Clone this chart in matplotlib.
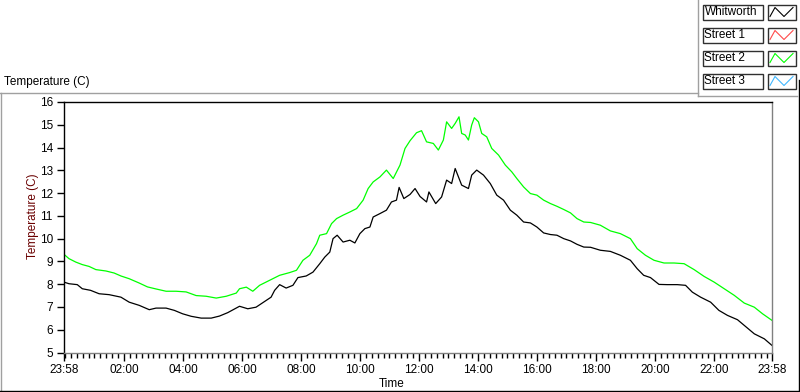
import matplotlib
matplotlib.use('Agg')
import matplotlib.pyplot as plt
import matplotlib.patches as mpatches

plt.rcParams['font.family'] = ['Liberation Sans', 'DejaVu Sans']

# ── Data (hours elapsed since 23:58, temperature in C) ────────────────────────
street2_t = [0.00, 0.17, 0.40, 0.62, 0.85, 1.08, 1.42, 1.70, 1.93, 2.21, 2.55, 2.83,
             3.12, 3.46, 3.80, 4.14, 4.48, 4.82, 5.16, 5.50, 5.84, 5.95, 6.18, 6.40,
             6.63, 6.97, 7.31, 7.65, 7.88, 8.10, 8.33, 8.56, 8.67, 8.90, 9.07, 9.24,
             9.46, 9.69, 9.92, 10.14, 10.31, 10.48, 10.71, 10.93, 11.16, 11.39, 11.56,
             11.73, 11.95, 12.12, 12.29, 12.52, 12.69, 12.86, 12.97, 13.14, 13.26, 13.39,
             13.48, 13.60, 13.71, 13.82, 13.91, 14.05, 14.16, 14.33, 14.50, 14.73, 14.96,
             15.18, 15.35, 15.58, 15.81, 16.03, 16.26, 16.49, 16.71, 16.94, 17.17, 17.39,
             17.62, 17.85, 18.18, 18.52, 18.86, 19.20, 19.43, 19.71, 20.00, 20.34, 20.68,
             21.02, 21.36, 21.70, 22.04, 22.38, 22.72, 23.06, 23.40, 23.68, 24.00]
street2_v = [9.31, 9.12, 8.97, 8.86, 8.78, 8.64, 8.58, 8.49, 8.36, 8.24, 8.05, 7.88,
             7.79, 7.69, 7.69, 7.66, 7.50, 7.47, 7.39, 7.47, 7.61, 7.80, 7.87, 7.69,
             7.95, 8.17, 8.39, 8.51, 8.61, 9.05, 9.27, 9.78, 10.15, 10.22, 10.66, 10.88,
             11.03, 11.17, 11.32, 11.69, 12.20, 12.49, 12.71, 13.01, 12.64, 13.23, 13.96,
             14.30, 14.65, 14.74, 14.25, 14.18, 13.89, 14.33, 15.13, 14.84, 15.06, 15.35,
             14.62, 14.55, 14.33, 14.99, 15.31, 15.13, 14.62, 14.47, 13.96, 13.67, 13.23,
             12.93, 12.64, 12.27, 11.98, 11.91, 11.69, 11.54, 11.42, 11.28, 11.13, 10.88,
             10.73, 10.71, 10.59, 10.34, 10.22, 10.00, 9.56, 9.27, 9.05, 8.93, 8.93,
             8.90, 8.64, 8.34, 8.09, 7.80, 7.51, 7.17, 6.99, 6.70, 6.41]

whitworth_t = [0.00, 0.17, 0.45, 0.62, 0.90, 1.19, 1.53, 1.93, 2.21, 2.55, 2.89, 3.12,
               3.46, 3.74, 4.02, 4.31, 4.65, 4.99, 5.27, 5.55, 5.95, 6.23, 6.51, 6.80,
               7.02, 7.14, 7.31, 7.53, 7.76, 7.93, 8.21, 8.44, 8.67, 8.84, 9.01, 9.12,
               9.26, 9.46, 9.69, 9.86, 10.03, 10.20, 10.37, 10.48, 10.71, 10.93, 11.10,
               11.27, 11.36, 11.52, 11.73, 11.90, 12.07, 12.29, 12.37, 12.60, 12.80, 12.97,
               13.14, 13.26, 13.48, 13.71, 13.82, 13.99, 14.22, 14.45, 14.67, 14.90, 15.13,
               15.35, 15.58, 15.81, 16.03, 16.26, 16.49, 16.71, 16.94, 17.17, 17.39, 17.62,
               17.85, 18.18, 18.52, 18.86, 19.20, 19.43, 19.65, 19.88, 20.17, 20.45, 20.79,
               21.07, 21.30, 21.58, 21.92, 22.20, 22.49, 22.83, 23.06, 23.40, 23.74, 24.00]
whitworth_v = [8.09, 8.02, 7.98, 7.80, 7.73, 7.58, 7.54, 7.43, 7.21, 7.07, 6.88, 6.95,
               6.95, 6.85, 6.70, 6.59, 6.51, 6.51, 6.60, 6.75, 7.03, 6.92, 6.99, 7.24,
               7.43, 7.73, 7.98, 7.83, 7.95, 8.29, 8.36, 8.53, 8.90, 9.19, 9.41, 10.00,
               10.15, 9.85, 9.93, 9.81, 10.22, 10.44, 10.51, 10.95, 11.10, 11.25, 11.61,
               11.69, 12.25, 11.76, 11.94, 12.20, 11.85, 11.61, 12.05, 11.54, 11.83, 12.57,
               12.42, 13.08, 12.35, 12.20, 12.79, 13.01, 12.79, 12.42, 11.91, 11.69, 11.25,
               11.03, 10.73, 10.69, 10.51, 10.25, 10.18, 10.15, 10.00, 9.90, 9.75, 9.63,
               9.62, 9.49, 9.44, 9.27, 9.05, 8.68, 8.39, 8.29, 7.99, 7.98, 7.98,
               7.95, 7.65, 7.43, 7.21, 6.85, 6.63, 6.44, 6.19, 5.82, 5.60, 5.31]

series_names = ['Whitworth', 'Street 1', 'Street 2', 'Street 3']
series_colors = ['#000000', '#ff4a4a', '#00ff00', '#40b8ff']

time_labels = ['23:58', '02:00', '04:00', '06:00', '08:00', '10:00', '12:00',
               '14:00', '16:00', '18:00', '20:00', '22:00', '23:58']
y_ticks = list(range(5, 17))

# ── Figure ────────────────────────────────────────────────────────────────────
W, H = 800, 392
fig = plt.figure(figsize=(W / 100, H / 100), dpi=100)
fig.patch.set_facecolor('white')

ax = fig.add_axes([64 / W, (H - 352.5) / H, 708 / W, 250.5 / H])
ax.set_zorder(2)
ax.plot(whitworth_t, whitworth_v, color=series_colors[0], lw=0.9)
ax.plot(street2_t, street2_v, color=series_colors[2], lw=0.9)

ax.set_xlim(0, 24)
ax.set_ylim(5, 16)
ax.set_yticks(y_ticks)
offset = 2 / 60  # first full hour after 23:58
major = [0] + [offset + 2 * k for k in range(1, 12)] + [24]
ax.set_xticks(major)
ax.set_xticklabels(time_labels)
ax.set_xticks([offset + 0.2 * k for k in range(120) if offset + 0.2 * k < 24], minor=True)

ax.spines['top'].set_color('black')
ax.spines['left'].set_color('black')
ax.spines['bottom'].set_color('#808080')
ax.spines['right'].set_color('#808080')
for s in ax.spines.values():
    s.set_linewidth(1.0)
ax.tick_params(axis='y', direction='out', length=5, width=1, pad=3, labelsize=8.5)
ax.tick_params(axis='x', which='major', direction='out', length=6, width=1, pad=2, labelsize=8.5)
ax.tick_params(axis='x', which='minor', direction='out', length=3.5, width=1)

# ── Frame, labels and legend panel (pixel overlay) ───────────────────────────
ov = fig.add_axes([0, 0, 1, 1])
ov.set_zorder(1)
ov.set_xlim(0, W)
ov.set_ylim(H, 0)
ov.axis('off')

gray = '#a0a0a0'
ov.plot([0, 698], [92.5, 92.5], color=gray, lw=1)
ov.plot([0.5, 0.5], [92.5, 391], color=gray, lw=1)
ov.plot([698, 698], [0, 95.5], color=gray, lw=1)
ov.plot([698, 797], [95.5, 95.5], color=gray, lw=1)
ov.plot([0, 799], [391, 391], color='black', lw=1)
ov.plot([798.5, 798.5], [80, 391], color='black', lw=1)

ov.text(4, 82, 'Temperature (C)', ha='left', va='center', fontsize=8.5)
ov.text(392, 384, 'Time', ha='center', va='center', fontsize=8.5)
ov.text(33, 216, 'Temperature (C)', ha='center', va='center', rotation=90,
        fontsize=8.5, color='#6a0000')

box_tops = [4.5, 27.5, 50.5, 73.5]
for name, col, top in zip(series_names, series_colors, box_tops):
    ov.add_patch(mpatches.Rectangle((702.5, top), 60, 15, fill=False,
                                    edgecolor='#303030', lw=1))
    ov.text(704.5, top + 7.8, name, ha='left', va='center', fontsize=8.5)
    ov.add_patch(mpatches.Rectangle((767.5, top), 28.5, 15, fill=False,
                                    edgecolor='#303030', lw=1))
    ov.plot([770, 775, 784, 793], [top + 12, top + 3, top + 12, top + 3],
            color=col, lw=0.8)

fig.savefig('out.png', dpi=100)
